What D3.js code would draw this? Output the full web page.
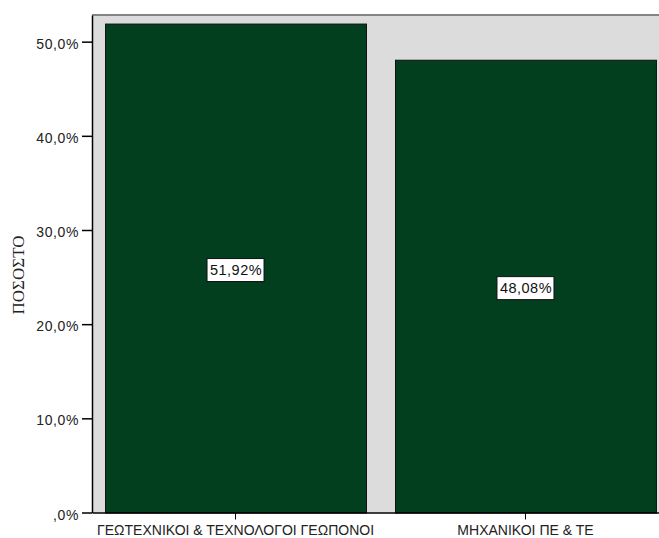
<!DOCTYPE html>
<html><head><meta charset="utf-8">
<script src="https://cdn.jsdelivr.net/npm/d3@7"></script>
<style>body{margin:0;background:#fff}svg{display:block}</style>
</head><body>
<svg id="c" width="659" height="538"></svg>
<script>
const categories = ["ΓΕΩΤΕΧΝΙΚΟΙ & ΤΕΧΝΟΛΟΓΟΙ ΓΕΩΠΟΝΟΙ", "ΜΗΧΑΝΙΚΟΙ ΠΕ & ΤΕ"];
const values = [51.92, 48.08];
const valueLabels = ["51,92%", "48,08%"];
const yTicks = [0, 10, 20, 30, 40, 50];
const yTitle = "ΠΟΣΟΣΤΟ";

(function () {
const svg = d3.select("#c");
const pL = 92, pT = 15, pB = 512.5, pR = 659;

const x = d3.scaleBand().domain(categories).range([pL, 669]).paddingInner(0.1).paddingOuter(0.045);
const y = d3.scaleLinear().domain([0, 52.83]).range([pB, pT]);

// plot background
svg.append("rect").attr("x", pL).attr("y", pT).attr("width", pR - pL).attr("height", pB - pT).attr("fill", "#dcdcdc");
svg.append("line").attr("x1", pL).attr("x2", pR).attr("y1", pT).attr("y2", pT).attr("stroke", "#858585").attr("stroke-width", 2);

// bars
svg.selectAll("rect.bar").data(values).enter().append("rect").attr("class", "bar")
  .attr("x", (d, i) => x(categories[i]) + 0.5)
  .attr("y", d => y(d) + 0.5)
  .attr("width", x.bandwidth())
  .attr("height", d => pB - y(d))
  .attr("fill", "#023f1e").attr("stroke", "#111").attr("stroke-width", 1);

// y axis
const fmt = d => d === 0 ? ",0%" : d.toFixed(1).replace(".", ",") + "%";
const ya = svg.append("g").attr("transform", `translate(${pL},0)`)
  .call(d3.axisLeft(y).tickValues(yTicks).tickFormat(fmt).tickSize(10).tickSizeOuter(0).tickPadding(3));
ya.select(".domain").attr("stroke", "#000").attr("stroke-width", 1.5);
ya.selectAll(".tick line").attr("stroke", "#000").attr("stroke-width", 1.5);
ya.selectAll(".tick text").attr("font-family", "Liberation Sans, Arial, sans-serif").attr("font-size", 14)
  .attr("letter-spacing", 0.6).attr("dy", "0.47em").attr("fill", "#222");

// x axis
const xa = svg.append("g").attr("transform", `translate(0,${pB})`)
  .call(d3.axisBottom(x).tickSize(7).tickSizeOuter(0).tickPadding(6));
xa.select(".domain").attr("stroke", "#000").attr("stroke-width", 1.5);
xa.selectAll(".tick line").attr("stroke", "#000").attr("stroke-width", 1);
xa.selectAll(".tick text").attr("font-family", "Liberation Sans, Arial, sans-serif").attr("font-size", 14).attr("fill", "#222");

// y title
svg.append("text").attr("transform", `translate(24,275) rotate(-90)`)
  .attr("text-anchor", "middle").attr("font-family", "Liberation Serif, Times New Roman, serif")
  .attr("font-size", 17).attr("fill", "#222").text(yTitle);

// value labels
const lg = svg.selectAll("g.vl").data(values).enter().append("g").attr("class", "vl")
  .attr("transform", (d, i) => `translate(${x(categories[i]) + x.bandwidth() / 2},${(y(d) + pB) / 2 + 2})`);
lg.append("rect").attr("x", -28.5).attr("y", -11.5).attr("width", 57).attr("height", 23)
  .attr("fill", "#fff").attr("stroke", "#111").attr("stroke-width", 1);
lg.append("text").attr("text-anchor", "middle").attr("dy", "0.36em").attr("x", 0.5)
  .attr("font-family", "Liberation Sans, Arial, sans-serif").attr("font-size", 14.5).attr("letter-spacing", 0.5).attr("fill", "#111")
  .text((d, i) => valueLabels[i]);
})();
</script>
</body></html>
